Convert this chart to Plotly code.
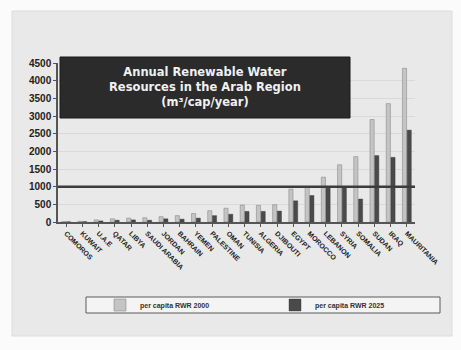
import plotly.graph_objects as go

countries = ["COMOROS", "KUWAIT", "U.A.E", "QATAR", "LIBYA", "SAUDI ARABIA", "JORDAN",
             "BAHRAIN", "YEMEN", "PALESTINE", "OMAN", "TUNISIA", "ALGERIA", "DJIBOUTI",
             "EGYPT", "MOROCCO", "LEBANON", "SYRIA", "SOMALIA", "SUDAN", "IRAQ", "MAURITANIA"]
rwr_2000 = [10, 20, 60, 90, 110, 120, 150, 180, 240, 320, 390, 480, 470, 490,
            930, 980, 1270, 1620, 1850, 2900, 3350, 4350]
rwr_2025 = [5, 10, 30, 50, 60, 50, 90, 80, 110, 180, 220, 300, 300, 310,
            600, 750, 960, 980, 650, 1880, 1830, 2600]
y_ticks = [0, 500, 1000, 1500, 2000, 2500, 3000, 3500, 4000, 4500]
threshold = 1000
title_lines = ["Annual Renewable Water", "Resources in the Arab Region", "(m³/cap/year)"]

W, H = 461, 350
L, R, T, B = 58, 46, 63, 128
pw, ph = W - L - R, H - T - B

def px_x(px):
    return (px - L) / pw

def px_y(py):
    return (H - B - py) / ph

fig = go.Figure()
fig.add_trace(go.Bar(x=countries, y=rwr_2000, name="per capita RWR 2000", legend="legend",
                     marker=dict(color="#c4c4c4", line=dict(color="#8c8c8c", width=0.6))))
fig.add_trace(go.Bar(x=countries, y=rwr_2025, name="per capita RWR 2025", legend="legend2",
                     marker=dict(color="#4a4a4a", line=dict(color="#333333", width=0.4))))

shapes = [
    dict(type="rect", xref="paper", yref="paper", layer="below",
         x0=px_x(12), x1=px_x(452), y0=px_y(336), y1=px_y(11),
         fillcolor="#e9e9e9", line=dict(color="#dcdcdc", width=1)),
    dict(type="line", xref="paper", yref="y", x0=0, x1=1, y0=threshold, y1=threshold,
         line=dict(color="#3c3c3c", width=2.5)),
    dict(type="rect", xref="paper", yref="paper",
         x0=px_x(60), x1=px_x(350), y0=px_y(118), y1=px_y(57),
         fillcolor="#2b2b2b", line=dict(color="#1a1a1a", width=1)),
    dict(type="rect", xref="paper", yref="paper", layer="below",
         x0=px_x(86), x1=px_x(440), y0=px_y(313), y1=px_y(297),
         fillcolor="#f4f4f4", line=dict(color="#5a5a5a", width=1)),
]

fig.add_annotation(xref="paper", yref="paper", x=px_x(205), y=px_y(87),
                   text="<br>".join(title_lines), showarrow=False,
                   font=dict(family="DejaVu Sans", size=11.5, color="#f0f0f0", weight="bold"),
                   align="center", xanchor="center", yanchor="middle")

legend_font = dict(family="Liberation Sans", size=7, color="#333333", weight="bold")
fig.update_layout(
    width=W, height=H,
    margin=dict(l=L, r=R, t=T, b=B),
    paper_bgcolor="#fbfbfb",
    plot_bgcolor="#f5f5f5",
    barmode="group", bargap=0.42, bargroupgap=0.12,
    shapes=shapes,
    showlegend=True,
    legend=dict(orientation="h", x=px_x(100), y=px_y(305), xanchor="left", yanchor="middle",
                bgcolor="rgba(0,0,0,0)", borderwidth=0, font=legend_font, itemwidth=30),
    legend2=dict(orientation="h", x=px_x(275), y=px_y(305), xanchor="left", yanchor="middle",
                 bgcolor="rgba(0,0,0,0)", borderwidth=0, font=legend_font, itemwidth=30),
    font=dict(family="Liberation Sans"),
)
fig.update_yaxes(range=[0, 4500], tickvals=y_ticks, showgrid=True, gridcolor="#d9d9d9",
                 gridwidth=1, showline=True, linecolor="#555555", linewidth=1.5,
                 ticks="outside", ticklen=3, tickcolor="#555555",
                 tickfont=dict(family="Liberation Sans", size=10, color="#222222", weight="bold"),
                 zeroline=False)
fig.update_xaxes(tickangle=45, showline=True, linecolor="#555555", linewidth=1.5,
                 ticks="outside", ticklen=3, tickcolor="#555555",
                 tickfont=dict(family="Liberation Sans", size=7, color="#222222", weight="bold"))

fig.write_html("out.html")
